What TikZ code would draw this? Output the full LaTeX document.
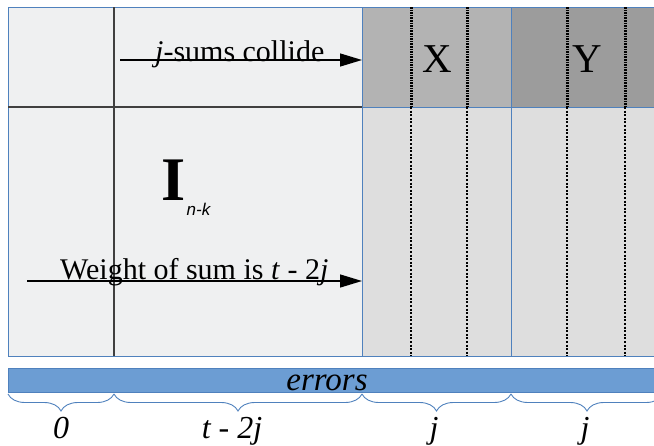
\documentclass[tikz,border=0pt]{standalone}
\usepackage{fontspec}
\setmainfont{Liberation Serif}
\newfontfamily\subsans{Liberation Sans}
\usepackage{tikz}
\usetikzlibrary{arrows.meta,decorations.pathreplacing,calc}

\definecolor{bordblue}{HTML}{4F81BD}
\definecolor{errblue}{HTML}{6C9DD3}
\definecolor{leftgray}{HTML}{EFF0F1}
\definecolor{xgray}{HTML}{B3B3B3}
\definecolor{ygray}{HTML}{9C9C9C}
\definecolor{lowgray}{HTML}{DEDEDE}

\begin{document}
\begin{tikzpicture}[
    x=1pt, y=-1pt,
    >=Latex,
    cell/.style={draw=bordblue, line width=1pt, anchor=north west,
                 inner sep=0pt, outer sep=0pt},
    gridln/.style={draw=black!75, line width=1.5pt},
    arr/.style={-{Triangle[length=22pt,width=13pt]}, line width=1.3pt},
    dotA/.style={line width=3pt, dash pattern=on 1.6pt off 1pt},
    dotB/.style={line width=1.2pt, dash pattern=on 2pt off 1.6pt},
    brc/.style={draw=bordblue, line width=0.9pt, decorate,
                decoration={brace, mirror, amplitude=17pt}},
    txt/.style={anchor=base west, inner sep=0pt,
                font=\fontsize{30}{36}\selectfont},
    big/.style={anchor=base, inner sep=0pt,
                font=\fontsize{41}{48}\selectfont},
    lbl/.style={anchor=base, inner sep=0pt,
                font=\fontsize{32}{38}\selectfont\itshape},
]
\useasboundingbox (0,0) rectangle (654,445);

%% ── Blocks ──────────────────────────────────────────────────────────────────
\node[cell, fill=leftgray, minimum width=354pt, minimum height=349pt]
    (ident) at (8,7) {};
\node[cell, fill=xgray,   minimum width=149pt, minimum height=100pt]
    (xblk) at (362,7) {};
\node[cell, fill=ygray,   minimum width=152pt, minimum height=100pt]
    (yblk) at (511,7) {};
\node[cell, fill=lowgray, minimum width=149pt, minimum height=249pt]
    (xlow) at (362,107) {};
\node[cell, fill=lowgray, minimum width=152pt, minimum height=249pt]
    (ylow) at (511,107) {};

%% ── Dark grid lines inside the left block ───────────────────────────────────
\coordinate (vtop) at (114,7);
\coordinate (hlft) at (8,107);
\draw[gridln] (vtop) -- (vtop |- ident.south);
\draw[gridln] (hlft) -- (hlft -| ident.east);

%% ── Dotted columns ──────────────────────────────────────────────────────────
\foreach \px in {411,467,567,625} {
  \draw[dotA] (\px,7) -- (\px,107);
  \draw[dotB] (\px,107) -- (\px,356);
}

%% ── Labels in the blocks ────────────────────────────────────────────────────
\node[big] (xlab) at (437,72) {X};
\node[big] (ylab) at (587,72) {Y};
\node[anchor=base west, inner sep=0pt,
      font=\fontsize{62}{70}\selectfont\bfseries] (ibig) at (161,200) {I};
\node[anchor=base west, inner sep=0pt,
      font=\fontsize{17}{20}\selectfont\subsans\itshape] (isub)
      at ($(ibig.base east)+(1,15)$) {n-k};

%% ── Arrows ──────────────────────────────────────────────────────────────────
\coordinate (jst) at (120,60);
\draw[arr] (jst) -- (jst -| xblk.west);
\node[txt] (jtxt) at (155,61) {\textit{j}-sums collide};

\coordinate (wst) at (27,281);
\draw[arr] (wst) -- (wst -| xlow.west);
\node[txt] (wtxt) at (60,279) {Weight of sum is \textit{t} - 2\textit{j}};

%% ── Errors bar and braces ───────────────────────────────────────────────────
\node[cell, fill=errblue, minimum width=660pt, minimum height=24pt]
    (errbar) at (8,368) {};
\node[anchor=base, inner sep=0pt, font=\fontsize{33}{40}\selectfont\itshape]
    (errtxt) at (327,390) {errors};

\coordinate (b0) at (8,394);
\coordinate (b1) at (114,394);
\coordinate (b2) at (362,394);
\coordinate (b3) at (511,394);
\coordinate (b4) at (663,394);
\draw[brc] (b0) -- (b1);
\draw[brc] (b1) -- (b2);
\draw[brc] (b2) -- (b3);
\draw[brc] (b3) -- (b4);

\node[lbl] (l0) at (61,438)  {0};
\node[lbl] (l1) at (232,438) {t - 2j};
\node[lbl] (l2) at (434,438) {j};
\node[lbl] (l3) at (585,438) {j};

\end{tikzpicture}
\end{document}
